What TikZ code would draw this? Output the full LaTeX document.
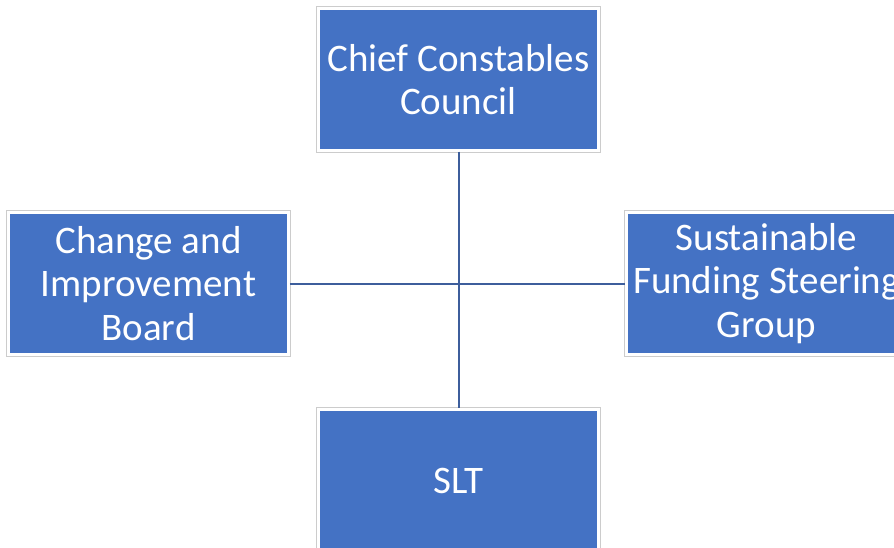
\documentclass[tikz,border=0pt]{standalone}
\usepackage{fontspec}
\setmainfont{Carlito}
\begin{document}
\begin{tikzpicture}[x=1pt,y=1pt,
  orgbox/.style={rectangle, fill=boxblue, draw=white, line width=2.5pt,
    preaction={draw=black!20, line width=4.3pt},
    minimum width=280pt, minimum height=142pt, inner sep=0pt,
    text=white, align=center,
    font=\fontsize{39}{43.5}\selectfont},
  link/.style={draw=linkblue, line width=2pt}]
\definecolor{boxblue}{HTML}{4472C4}
\definecolor{linkblue}{HTML}{3D5E9C}
\useasboundingbox (0,0) rectangle (894,547);
\clip (0,0) rectangle (894,547);
\fill[white] (0,0) rectangle (894,547);
% committee boxes
\node[orgbox] (ccc) at (458.5,467.5) {Chief Constables\\Council};
\node[orgbox] (cib) at (148.5,263.5) {Change and\\Improvement\\Board};
\node[orgbox] (sfsg) at (766.5,263.5) {Sustainable\\Funding Steering\\Group};
\node[orgbox] (slt) at (458.5,66.5) {SLT};
% connectors crossing in the middle
\draw[link] (ccc.south) -- (slt.north);
\draw[link] (cib.east) -- (sfsg.west);
\end{tikzpicture}
\end{document}
